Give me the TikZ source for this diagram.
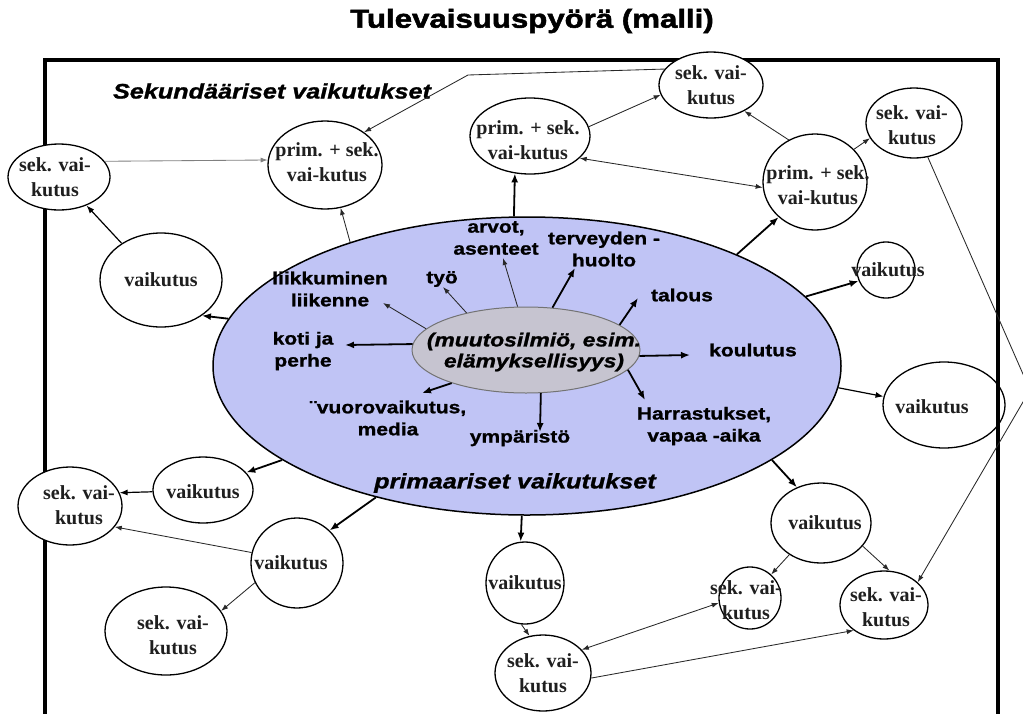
\documentclass[tikz,border=0pt]{standalone}
\usepackage{fontspec}
\setmainfont{Liberation Serif}
\newfontfamily\lsans[FakeStretch=1.2, BoldFeatures={FakeBold=1.2}, BoldItalicFeatures={FakeBold=1.2}]{Liberation Sans}
\newfontfamily\titlefont[FakeStretch=1.2, BoldFeatures={FakeBold=2}]{Liberation Sans}
\usetikzlibrary{shapes.geometric,arrows.meta}
\definecolor{bigfill}{RGB}{192,196,245}
\definecolor{innerfill}{RGB}{198,196,208}
\definecolor{linegray}{RGB}{40,40,40}
\begin{document}
\begin{tikzpicture}[x=1pt,y=-1pt,
  ell/.style={ellipse, draw=black, line width=1.3pt, fill=white, inner sep=0pt},
  otext/.style={inner sep=0pt, align=center, font=\fontsize{20}{25}\selectfont\bfseries, text=black!88},
  lab/.style={inner sep=0pt, align=center, font=\lsans\fontsize{17.5}{22}\selectfont\bfseries},
  bigital/.style={inner sep=0pt, align=center, font=\lsans\fontsize{21}{24}\selectfont\bfseries\itshape},
  bigarrow/.style={line width=1.8pt, -{Latex[length=9pt,width=7pt]}},
  medarrow/.style={line width=1.2pt, -{Latex[length=8pt,width=6pt]}},
  thinarrow/.style={line width=0.85pt, draw=linegray, -{Latex[length=7pt,width=5pt]}},
  dblarrow/.style={line width=0.85pt, draw=linegray, {Latex[length=7pt,width=5pt]}-{Latex[length=7pt,width=5pt]}},
  framebox/.style={line width=4pt, line join=miter}
]
\useasboundingbox (0,0) rectangle (1023,713);

% node lying under the frame
\node[ell, minimum width=122pt, minimum height=86pt] (vr2) at (944,405) {};
\node[otext] (vr2t) at (932,407) {vaikutus};

% frame
\draw[framebox] (45,740) -- (45,60) -- (998,60) -- (998,740);

% title and headings
\node[inner sep=0pt, font=\titlefont\fontsize{26}{30}\selectfont\bfseries] (title) at (532,21) {Tulevaisuuspyörä (malli)};
\node[bigital] (sekh) at (272,91) {Sekundääriset vaikutukset};

% central ellipses
\node[ellipse, draw=black, line width=1.5pt, fill=bigfill, minimum width=628pt, minimum height=298pt, inner sep=0pt] (big) at (527,366) {};
\node[ellipse, draw=black!55, line width=1pt, fill=innerfill, minimum width=228pt, minimum height=86pt, inner sep=0pt] (inner) at (526,350) {};
\node[inner sep=0pt, align=center, font=\lsans\fontsize{19}{21}\selectfont\bfseries\itshape] (innert) at (534,352) {(muutosilmiö, esim.\\elämyksellisyys)};
\node[bigital] (primh) at (515,483) {primaariset vaikutukset};

% labels inside the big ellipse
\node[lab] (liik) at (330,289) {liikkuminen\\liikenne};
\node[lab] (tyo) at (442,279) {työ};
\node[lab] (arvot) at (496,238) {arvot,\\asenteet};
\node[lab] (terv) at (604,249) {terveyden -\\huolto};
\node[lab] (talous) at (682,295) {talous};
\node[lab] (koti) at (303,351) {koti ja\\perhe};
\node[lab] (koul) at (753,350) {koulutus};
\node[lab] (vuoro) at (388,418) {¨vuorovaikutus,\\media};
\node[lab] (ymp) at (520,438) {ympäristö};
\node[lab] (harr) at (704,426) {Harrastukset,\\vapaa -aika};

% outer nodes
\node[ell, minimum width=104pt, minimum height=66pt] (a1) at (711,85) {};
\node[otext] (a1t) at (711,85) {sek. vai-\\kutus};
\node[ell, minimum width=96pt, minimum height=70pt] (a2) at (914,123) {};
\node[otext] (a2t) at (912,125) {sek. vai-\\kutus};
\node[ell, minimum width=104pt, minimum height=96pt] (psr) at (815,182) {};
\node[otext] (psrt) at (818,185) {prim. + sek.\\vai-kutus};
\node[ell, minimum width=120pt, minimum height=76pt] (psm) at (530,136) {};
\node[otext] (psmt) at (528,140) {prim. + sek.\\vai-kutus};
\node[ell, minimum width=114pt, minimum height=88pt] (psl) at (325,165) {};
\node[otext] (pslt) at (327,162) {prim. + sek.\\vai-kutus};
\node[ell, minimum width=102pt, minimum height=66pt] (sl) at (59,177) {};
\node[otext] (slt) at (55,177) {sek. vai-\\kutus};
\node[ell, minimum width=122pt, minimum height=94pt] (vl) at (161,280) {};
\node[otext] (vlt) at (161,280) {vaikutus};
\node[ell, minimum width=58pt, minimum height=56pt] (vr1) at (886,270) {};
\node[otext] (vr1t) at (888,270) {vaikutus};
\node[ell, minimum width=100pt, minimum height=80pt] (vb3) at (821,523) {};
\node[otext] (vb3t) at (825,523) {vaikutus};
\node[ell, minimum width=62pt, minimum height=62pt] (sb2) at (750,598) {};
\node[otext] (sb2t) at (746,600) {sek. vai-\\kutus};
\node[ell, minimum width=88pt, minimum height=68pt] (sb3) at (884,605) {};
\node[otext] (sb3t) at (886,607) {sek. vai-\\kutus};
\node[ell, minimum width=78pt, minimum height=82pt] (vb2) at (525,583) {};
\node[otext] (vb2t) at (525,583) {vaikutus};
\node[ell, minimum width=96pt, minimum height=76pt] (sb1) at (543,673) {};
\node[otext] (sb1t) at (543,673) {sek. vai-\\kutus};
\node[ell, minimum width=104pt, minimum height=78pt] (sbl1) at (70,506) {};
\node[otext] (sbl1t) at (79,505) {sek. vai-\\kutus};
\node[ell, minimum width=100pt, minimum height=66pt] (vbl1) at (203,490) {};
\node[otext] (vbl1t) at (203,492) {vaikutus};
\node[ell, minimum width=92pt, minimum height=90pt] (vbl2) at (297,563) {};
\node[otext] (vbl2t) at (291,563) {vaikutus};
\node[ell, minimum width=122pt, minimum height=88pt] (sbl2) at (166,631) {};
\node[otext] (sbl2t) at (173,635) {sek. vai-\\kutus};

% bend points and arrow ends
\coordinate (bend1) at (1030,390);
\coordinate (bend2) at (468,75);
\coordinate (liik-e) at (383,303);
\coordinate (tyo-e) at (443,287);
\coordinate (arvot-e) at (503,258);
\coordinate (terv-e) at (575,268);
\coordinate (talous-e) at (638,298);
\coordinate (koti-e) at (345,345);
\coordinate (koul-e) at (690,355);
\coordinate (vuoro-e) at (422,393);
\coordinate (ymp-e) at (540,432);
\coordinate (harr-e) at (645,400);

% arrows from the core
\draw[thinarrow] (inner.168) -- (liik-e);
\draw[thinarrow] (inner.148) -- (tyo-e);
\draw[thinarrow] (inner.101) -- (arvot-e);
\draw[bigarrow] (inner.58) -- (terv-e);
\draw[bigarrow] (inner.15) -- (talous-e);
\draw[bigarrow] (inner.177) -- (koti-e);
\draw[bigarrow] (inner.357) -- (koul-e);
\draw[bigarrow] (inner.204) -- (vuoro-e);
\draw[bigarrow] (inner.289) -- (ymp-e);
\draw[bigarrow] (inner.349) -- (harr-e);

% arrows from the big ellipse
\draw[bigarrow] (big.95) -- (psm.248);
\draw[thinarrow] (big.145) -- (psl.290);
\draw[bigarrow] (big.28) -- (psr.224);
\draw[bigarrow] (big.14) -- (vr1.202);
\draw[medarrow] (big.356) -- (vr2.172);
\draw[bigarrow] (big.339) -- (vb3.124);
\draw[bigarrow] (big.268) -- (vb2.96);
\draw[bigarrow] (big.221) -- (vbl2.45);
\draw[bigarrow] (big.201) -- (vbl1.22);
\draw[bigarrow] (big.171) -- (vl.319);

% secondary connectors
\draw[medarrow] (vl.137) -- (sl.314);
\draw[thinarrow, draw=gray] (sl.19) -- (psl.175);
\draw[thinarrow] (a1.161) -- (bend2) -- (psl.40);
\draw[thinarrow] (psm.9) -- (a1.191);
\draw[dblarrow] (psm.336) -- (psr.186);
\draw[thinarrow] (psr.122) -- (a1.322);
\draw[thinarrow] (psr.40) -- (a2.199);
\draw[thinarrow] (a2.292) -- (bend1) -- (sb3.34);
\draw[medarrow] (vbl1.182) -- (sbl1.15);
\draw[thinarrow] (vbl2.167) -- (sbl1.335);
\draw[thinarrow] (vbl2.205) -- (sbl2.20);
\draw[thinarrow] (vb2.265) -- (sb1.110);
\draw[dblarrow] (sb1.31) -- (sb2.189);
\draw[thinarrow] (sb1.354) -- (sb3.220);
\draw[thinarrow] (vb3.225) -- (sb2.48);
\draw[thinarrow] (vb3.331) -- (sb3.81);
\end{tikzpicture}
\end{document}
